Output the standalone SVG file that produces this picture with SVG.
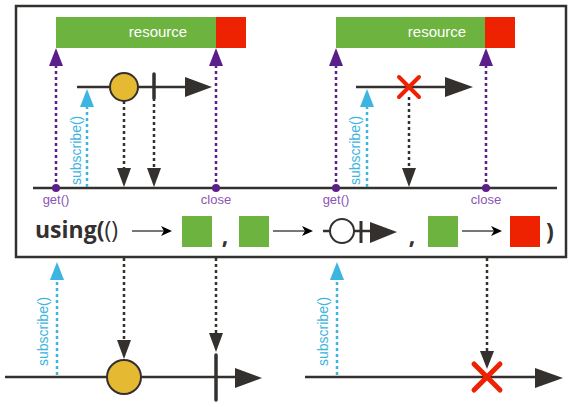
<svg xmlns="http://www.w3.org/2000/svg" width="573" height="407" viewBox="0 0 573 407">
<style>
.line{stroke:#33302e;stroke-width:2.5;fill:none}
.dotk{stroke:#33302e;stroke-width:2.5;stroke-dasharray:3,3;fill:none}
.dotp{stroke:#5c1f8a;stroke-width:2.5;stroke-dasharray:3,3;fill:none}
.dotc{stroke:#3cb5e0;stroke-width:2.5;stroke-dasharray:3,3;fill:none}
.hk{fill:#33302e}
.hp{fill:#5c1f8a}
.hc{fill:#3cb5e0}
.green{fill:#6db33f}
.red{fill:#ee2200}
.res{font-family:"Liberation Sans","Noto Sans",sans-serif;font-size:15px;fill:#fff}
.lbl{font-family:"Liberation Sans","Noto Sans",sans-serif;font-size:13px;fill:#8b55b5}
.sub{font-family:"Liberation Sans","Noto Sans",sans-serif;font-size:14px;fill:#3cb5e0}
.big{font-family:"Open Sans","Noto Sans",sans-serif;font-size:23px;fill:#33302e;font-weight:bold}
.gl{stroke:#777;stroke-width:2;fill:none}
.xr{stroke:#ee2200;stroke-linecap:round;fill:none}
</style>
<g id="frame"><rect x="16" y="6" width="550" height="251" fill="#fff" stroke="#33302e" stroke-width="2.5"/></g>

<g id="resource1">
<rect x="56" y="17" width="160" height="31" class="green"/>
<rect x="216" y="17" width="30" height="31" class="red"/>
<text x="158" y="37" text-anchor="middle" class="res">resource</text>
</g>
<g id="resource2">
<rect x="336" y="17" width="149" height="31" class="green"/>
<rect x="485" y="17" width="30" height="31" class="red"/>
<text x="437" y="37" text-anchor="middle" class="res">resource</text>
</g>

<g id="timeline-inner">
<line x1="33" y1="188" x2="557" y2="188" class="line"/>
</g>

<g id="connectors">
<line x1="56" y1="188" x2="56" y2="64" class="dotp"/>
<polygon points="56,48 49,66 63,66" class="hp"/>
<line x1="216" y1="188" x2="216" y2="64" class="dotp"/>
<polygon points="216,48 209,66 223,66" class="hp"/>
<line x1="336" y1="188" x2="336" y2="64" class="dotp"/>
<polygon points="336,48 329,66 343,66" class="hp"/>
<line x1="486" y1="188" x2="486" y2="64" class="dotp"/>
<polygon points="486,48 479,66 493,66" class="hp"/>
<line x1="87" y1="187" x2="87" y2="105" class="dotc"/>
<polygon points="87,89 80,107 94,107" class="hc"/>
<line x1="367" y1="187" x2="367" y2="105" class="dotc"/>
<polygon points="367,89 360,107 374,107" class="hc"/>
<line x1="124" y1="101" x2="124" y2="170" class="dotk"/>
<polygon points="124,187 117,168 131,168" class="hk"/>
<line x1="154" y1="98" x2="154" y2="170" class="dotk"/>
<polygon points="154,187 147,168 161,168" class="hk"/>
<line x1="409" y1="97" x2="409" y2="170" class="dotk"/>
<polygon points="409,187 402,168 416,168" class="hk"/>
<line x1="124" y1="258" x2="124" y2="342" class="dotk"/>
<polygon points="124,359 117,340 131,340" class="hk"/>
<line x1="216" y1="258" x2="216" y2="335" class="dotk"/>
<polygon points="216,352 209,333 223,333" class="hk"/>
<line x1="487" y1="258" x2="487" y2="353" class="dotk"/>
<polygon points="487,369 480,351 494,351" class="hk"/>
<line x1="57" y1="375" x2="57" y2="277" class="dotc"/>
<polygon points="57,262 50,280 64,280" class="hc"/>
<line x1="337" y1="375" x2="337" y2="277" class="dotc"/>
<polygon points="337,262 330,280 344,280" class="hc"/>
</g>

<g id="dots">
<circle cx="56" cy="188" r="4" class="hp"/>
<circle cx="216" cy="188" r="4" class="hp"/>
<circle cx="336" cy="188" r="4" class="hp"/>
<circle cx="486" cy="188" r="4" class="hp"/>
</g>
<g id="labels">
<text x="56" y="204" text-anchor="middle" class="lbl">get()</text>
<text x="216" y="204" text-anchor="middle" class="lbl">close</text>
<text x="336" y="204" text-anchor="middle" class="lbl">get()</text>
<text x="486" y="204" text-anchor="middle" class="lbl">close</text>
<text transform="translate(81,185) rotate(-90)" class="sub">subscribe()</text>
<text transform="translate(360,185) rotate(-90)" class="sub">subscribe()</text>
<text transform="translate(48,366) rotate(-90)" class="sub">subscribe()</text>
<text transform="translate(328,366) rotate(-90)" class="sub">subscribe()</text>
</g>

<g id="obs1">
<line x1="77" y1="87" x2="190" y2="87" class="line"/>
<polygon points="212,87 185,77 185,97" class="hk"/>
<circle cx="124" cy="87" r="14" fill="#e6b933" stroke="#33302e" stroke-width="2"/>
<line x1="154" y1="74" x2="154" y2="98" stroke="#33302e" stroke-width="3.5" stroke-linecap="round"/>
</g>
<g id="obs2">
<line x1="356" y1="87" x2="450" y2="87" class="line"/>
<polygon points="473,87 445,77 445,97" class="hk"/>
<path d="M399,77 L419,97 M419,77 L399,97" class="xr" stroke-width="4"/>
</g>

<g id="using-row">
<text x="35" y="238" class="big">using(<tspan font-weight="normal">()</tspan></text>
<line x1="132" y1="231" x2="164" y2="231" class="gl"/>
<polygon points="172,231 161,226 164,231 161,236" fill="#000"/>
<rect x="182" y="216" width="30" height="31" class="green"/>
<text x="225" y="244" text-anchor="middle" class="big">,</text>
<rect x="239" y="216" width="30" height="31" class="green"/>
<line x1="273" y1="231" x2="305" y2="231" class="gl"/>
<polygon points="313,231 302,226 305,231 302,236" fill="#000"/>
<line x1="323" y1="231" x2="375" y2="231" class="line"/>
<circle cx="342" cy="231" r="12" fill="#fff" stroke="#33302e" stroke-width="2"/>
<line x1="361" y1="221" x2="361" y2="243" stroke="#33302e" stroke-width="3"/>
<polygon points="397,232 370,222 370,243" class="hk"/>
<text x="412" y="244" text-anchor="middle" class="big">,</text>
<rect x="428" y="216" width="30" height="31" class="green"/>
<line x1="462" y1="231" x2="494" y2="231" class="gl"/>
<polygon points="502,231 491,226 494,231 491,236" fill="#000"/>
<rect x="510" y="216" width="30" height="31" class="red"/>
<text x="550" y="240" text-anchor="middle" class="big">)</text>
</g>

<g id="result1">
<line x1="5" y1="377" x2="240" y2="377" class="line"/>
<polygon points="262,378 235,368 235,388" class="hk"/>
<circle cx="124" cy="377" r="17" fill="#e6b933" stroke="#33302e" stroke-width="2"/>
<line x1="216" y1="355" x2="216" y2="400" stroke="#33302e" stroke-width="3.5" stroke-linecap="round"/>
</g>
<g id="result2">
<line x1="305" y1="377" x2="540" y2="377" class="line"/>
<polygon points="563,378 535,368 535,388" class="hk"/>
<path d="M474,364 L500,390 M500,364 L474,390" class="xr" stroke-width="5"/>
</g>
</svg>
